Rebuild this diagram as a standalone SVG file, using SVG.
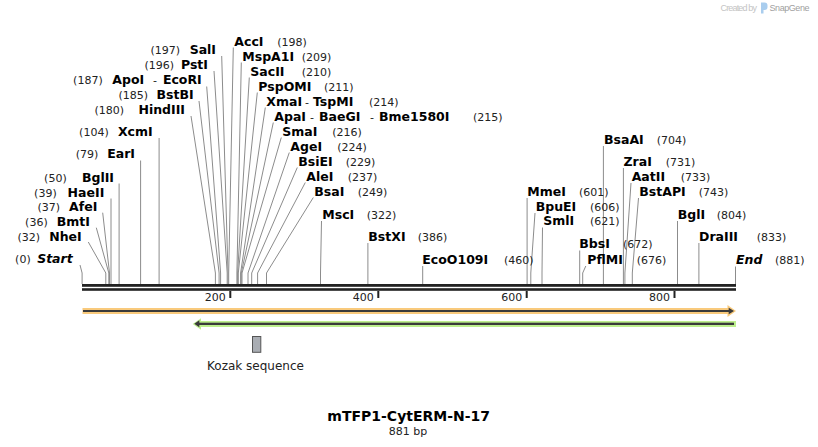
<svg xmlns="http://www.w3.org/2000/svg" width="818" height="447" viewBox="0 0 818 447">
<style>
.nm{font-family:"DejaVu Sans",Verdana,sans-serif;font-weight:bold;font-size:12.5px;fill:#000}
.it{font-style:italic}
.num{font-family:"DejaVu Sans",Verdana,sans-serif;font-size:11px;fill:#222}
.e{text-anchor:end}
.ln{stroke:#8c8c8c;stroke-width:1;fill:none}
.bb{fill:#222}
.tk{fill:#222}
.tkl{font-family:"DejaVu Sans",Verdana,sans-serif;font-size:11px;fill:#222;text-anchor:end}
</style>
<rect width="818" height="447" fill="#fff"/>

<g id="credit">
<text x="720.5" y="10.5" font-family="Liberation Sans,Arial,sans-serif" font-size="9" fill="#c4c4c4" textLength="36.5">Created by</text>
<path d="M761 2.5h3.5a3 3 0 0 1 3 3v1.5a3 3 0 0 1-3 3h-1v3.5h-2.5z" fill="#a9cdee"/>
<text x="769.5" y="10.5" font-family="Liberation Sans,Arial,sans-serif" font-size="9" fill="#a0a0a0" textLength="40">SnapGene</text>
</g>

<g id="connectors">
<polyline class="ln" points="80,265 82.1,273 82.1,284"/>
<polyline class="ln" points="88.3,242 105.8,273 105.8,284"/>
<polyline class="ln" points="96.3,227.7 108.8,273 108.8,284"/>
<polyline class="ln" points="102.7,212.7 109.5,273 109.5,284"/>
<polyline class="ln" points="111,198.5 111,284"/>
<polyline class="ln" points="119.1,183.5 119.1,284"/>
<polyline class="ln" points="140.6,160.5 140.6,284"/>
<polyline class="ln" points="159.1,138 159.1,284"/>
<polyline class="ln" points="191,116 215.4,273 215.4,284"/>
<polyline class="ln" points="199,101 219.1,273 219.1,284"/>
<polyline class="ln" points="206.7,86.5 220.6,273 220.6,284"/>
<polyline class="ln" points="214,71 227.2,273 227.2,284"/>
<polyline class="ln" points="221.7,56 228,273 228,284"/>
<polyline class="ln" points="233.3,47.5 228.7,273 228.7,284"/>
<polyline class="ln" points="241.3,62.5 236.9,273 236.9,284"/>
<polyline class="ln" points="249.3,77.5 237.6,273 237.6,284"/>
<polyline class="ln" points="257.3,92.5 238.3,273 238.3,284"/>
<polyline class="ln" points="265.3,107.5 240.6,273 240.6,284"/>
<polyline class="ln" points="273.3,122.5 241.3,273 241.3,284"/>
<polyline class="ln" points="281.3,137.5 242,273 242,284"/>
<polyline class="ln" points="289.3,152.5 248,273 248,284"/>
<polyline class="ln" points="297.3,167.5 251.7,273 251.7,284"/>
<polyline class="ln" points="305.3,182.5 257.6,273 257.6,284"/>
<polyline class="ln" points="313.3,197.5 266.5,273 266.5,284"/>
<polyline class="ln" points="321.5,221 320.5,273 320.5,284"/>
<polyline class="ln" points="367.9,243 367.9,284"/>
<polyline class="ln" points="422.7,266 422.7,284"/>
<polyline class="ln" points="527.1,198 527.1,284"/>
<polyline class="ln" points="535,213 530.8,273 530.8,284"/>
<polyline class="ln" points="542.5,227.5 542,273 542,284"/>
<polyline class="ln" points="579.7,250.5 579.7,284"/>
<polyline class="ln" points="585.8,266 582.7,273 582.7,284"/>
<polyline class="ln" points="603.4,146 603.4,284"/>
<polyline class="ln" points="623.4,168 623.4,284"/>
<polyline class="ln" points="631,183 624.9,273 624.9,284"/>
<polyline class="ln" points="638.5,198 632.3,273 632.3,284"/>
<polyline class="ln" points="677.5,221 677.5,284"/>
<polyline class="ln" points="698.9,243 698.9,284"/>
<polyline class="ln" points="735.5,266.5 735.5,284"/>
</g>

<g id="backbone">
<rect class="bb" x="82" y="284" width="654" height="2.8"/>
<rect class="bb" x="82" y="288.2" width="654" height="2.6"/>
<rect class="tk" x="229.3" y="291" width="2" height="7"/>
<rect class="tk" x="377.3" y="291" width="2" height="7"/>
<rect class="tk" x="525.7" y="291" width="2" height="7"/>
<rect class="tk" x="673.5" y="291" width="2" height="7"/>
<text class="tkl" x="225.8" y="300.5">200</text>
<text class="tkl" x="373.8" y="300.5">400</text>
<text class="tkl" x="522.2" y="300.5">600</text>
<text class="tkl" x="670" y="300.5">800</text>
</g>

<!-- left labels -->
<g id="site-Start"><text class="num e" x="30.7" y="263.3">(0)</text><text class="nm it e" x="72.7" y="263.3">Start</text></g>
<g id="site-NheI"><text class="num e" x="40" y="240.7">(32)</text><text class="nm e" x="81.7" y="240.7">NheI</text></g>
<g id="site-BmtI"><text class="num e" x="47.7" y="225.7">(36)</text><text class="nm e" x="90" y="225.7">BmtI</text></g>
<g id="site-AfeI"><text class="num e" x="60" y="211">(37)</text><text class="nm e" x="97.3" y="211">AfeI</text></g>
<g id="site-HaeII"><text class="num e" x="56.7" y="196.7">(39)</text><text class="nm e" x="104.3" y="196.7">HaeII</text></g>
<g id="site-BglII"><text class="num e" x="66.7" y="181.7">(50)</text><text class="nm e" x="114" y="181.7">BglII</text></g>
<g id="site-EarI"><text class="num e" x="98.3" y="158.3">(79)</text><text class="nm e" x="135" y="158.3">EarI</text></g>
<g id="site-XcmI"><text class="num e" x="108.7" y="136">(104)</text><text class="nm e" x="152.7" y="136">XcmI</text></g>
<g id="site-HindIII"><text class="num e" x="124" y="114">(180)</text><text class="nm e" x="185" y="114">HindIII</text></g>
<g id="site-BstBI"><text class="num e" x="148" y="99">(185)</text><text class="nm e" x="193.7" y="99">BstBI</text></g>
<g id="site-ApoI-EcoRI"><text class="num e" x="102.7" y="84">(187)</text><text class="nm" x="112.3" y="84">ApoI</text><text class="num" x="153" y="84">-</text><text class="nm e" x="201.7" y="84">EcoRI</text></g>
<g id="site-PstI"><text class="num e" x="174" y="69">(196)</text><text class="nm e" x="208" y="69">PstI</text></g>
<g id="site-SalI"><text class="num e" x="180" y="54">(197)</text><text class="nm e" x="216" y="54">SalI</text></g>

<!-- right labels -->
<g id="site-AccI"><text class="nm" x="234.3" y="45.7">AccI</text><text class="num" x="277.3" y="45.7">(198)</text></g>
<g id="site-MspA1I"><text class="nm" x="242.3" y="60.7">MspA1I</text><text class="num" x="301.7" y="60.7">(209)</text></g>
<g id="site-SacII"><text class="nm" x="250.3" y="75.7">SacII</text><text class="num" x="301.7" y="75.7">(210)</text></g>
<g id="site-PspOMI"><text class="nm" x="258.3" y="90.7">PspOMI</text><text class="num" x="324" y="90.7">(211)</text></g>
<g id="site-XmaI-TspMI"><text class="nm" x="266.3" y="105.7">XmaI</text><text class="num" x="305" y="105.7">-</text><text class="nm" x="313" y="105.7">TspMI</text><text class="num" x="369" y="105.7">(214)</text></g>
<g id="site-ApaI-BaeGI-Bme1580I"><text class="nm" x="274.3" y="120.7">ApaI</text><text class="num" x="310" y="120.7">-</text><text class="nm" x="319" y="120.7">BaeGI</text><text class="num" x="370" y="120.7">-</text><text class="nm" x="379" y="120.7">Bme1580I</text><text class="num" x="473" y="120.7">(215)</text></g>
<g id="site-SmaI"><text class="nm" x="282.3" y="135.7">SmaI</text><text class="num" x="332.3" y="135.7">(216)</text></g>
<g id="site-AgeI"><text class="nm" x="290.3" y="150.7">AgeI</text><text class="num" x="337.3" y="150.7">(224)</text></g>
<g id="site-BsiEI"><text class="nm" x="298.3" y="165.7">BsiEI</text><text class="num" x="345.7" y="165.7">(229)</text></g>
<g id="site-AleI"><text class="nm" x="306.3" y="180.7">AleI</text><text class="num" x="347.7" y="180.7">(237)</text></g>
<g id="site-BsaI"><text class="nm" x="314.3" y="195.7">BsaI</text><text class="num" x="357.7" y="195.7">(249)</text></g>
<g id="site-MscI"><text class="nm" x="322.3" y="219">MscI</text><text class="num" x="366.7" y="219">(322)</text></g>
<g id="site-BstXI"><text class="nm" x="368.3" y="240.7">BstXI</text><text class="num" x="417.7" y="240.7">(386)</text></g>
<g id="site-EcoO109I"><text class="nm" x="422.3" y="264">EcoO109I</text><text class="num" x="504" y="264">(460)</text></g>
<g id="site-MmeI"><text class="nm" x="527.3" y="195.7">MmeI</text><text class="num" x="579" y="195.7">(601)</text></g>
<g id="site-BpuEI"><text class="nm" x="535.7" y="210.7">BpuEI</text><text class="num" x="590" y="210.7">(606)</text></g>
<g id="site-SmlI"><text class="nm" x="543.3" y="225.3">SmlI</text><text class="num" x="590" y="225.3">(621)</text></g>
<g id="site-BbsI"><text class="nm" x="579.3" y="248.3">BbsI</text><text class="num" x="623" y="248.3">(672)</text></g>
<g id="site-PflMI"><text class="nm" x="587.3" y="264">PflMI</text><text class="num" x="636.7" y="264">(676)</text></g>
<g id="site-BsaAI"><text class="nm" x="604" y="144">BsaAI</text><text class="num" x="656.7" y="144">(704)</text></g>
<g id="site-ZraI"><text class="nm" x="623.5" y="166">ZraI</text><text class="num" x="665.7" y="166">(731)</text></g>
<g id="site-AatII"><text class="nm" x="631.7" y="181">AatII</text><text class="num" x="680.7" y="181">(733)</text></g>
<g id="site-BstAPI"><text class="nm" x="639.3" y="196">BstAPI</text><text class="num" x="698.7" y="196">(743)</text></g>
<g id="site-BglI"><text class="nm" x="677.7" y="219.3">BglI</text><text class="num" x="716.7" y="219.3">(804)</text></g>
<g id="site-DraIII"><text class="nm" x="699" y="240.7">DraIII</text><text class="num" x="756.7" y="240.7">(833)</text></g>
<g id="site-End"><text class="nm it" x="736" y="264">End</text><text class="num" x="775" y="264">(881)</text></g>

<!-- features -->
<g id="feature-orange">
<rect x="82.5" y="308" width="646" height="6" fill="#f9ca7c"/>
<polygon points="727.5,305 736,311 727.5,317" fill="#f9ca7c"/>
<rect x="83" y="310" width="647" height="2" fill="#3a3a3a"/>
<polygon points="728.7,307.7 734,311 728.7,314.3" fill="#3a3a3a"/>
</g>
<g id="feature-green">
<rect x="200" y="321" width="536" height="6" fill="#bdef8d"/>
<polygon points="201,318.3 192.7,324 201,329.7" fill="#bdef8d"/>
<rect x="198" y="322.7" width="536" height="2.3" fill="#3a3a3a"/>
<polygon points="199.3,320.3 194.3,323.8 199.3,327.3" fill="#3a3a3a"/>
</g>
<g id="feature-kozak">
<rect x="252.5" y="336.5" width="8.3" height="15.8" fill="#a9adb3" stroke="#555" stroke-width="1"/>
<text x="255.5" y="370" font-family="DejaVu Sans,Verdana,sans-serif" font-size="12" fill="#222" text-anchor="middle">Kozak sequence</text>
</g>

<g id="title">
<text x="408.7" y="421" font-family="DejaVu Sans,Verdana,sans-serif" font-size="14" font-weight="bold" fill="#000" text-anchor="middle">mTFP1-CytERM-N-17</text>
<text x="408" y="434.5" font-family="DejaVu Sans,Verdana,sans-serif" font-size="11" fill="#222" text-anchor="middle">881 bp</text>
</g>
</svg>
